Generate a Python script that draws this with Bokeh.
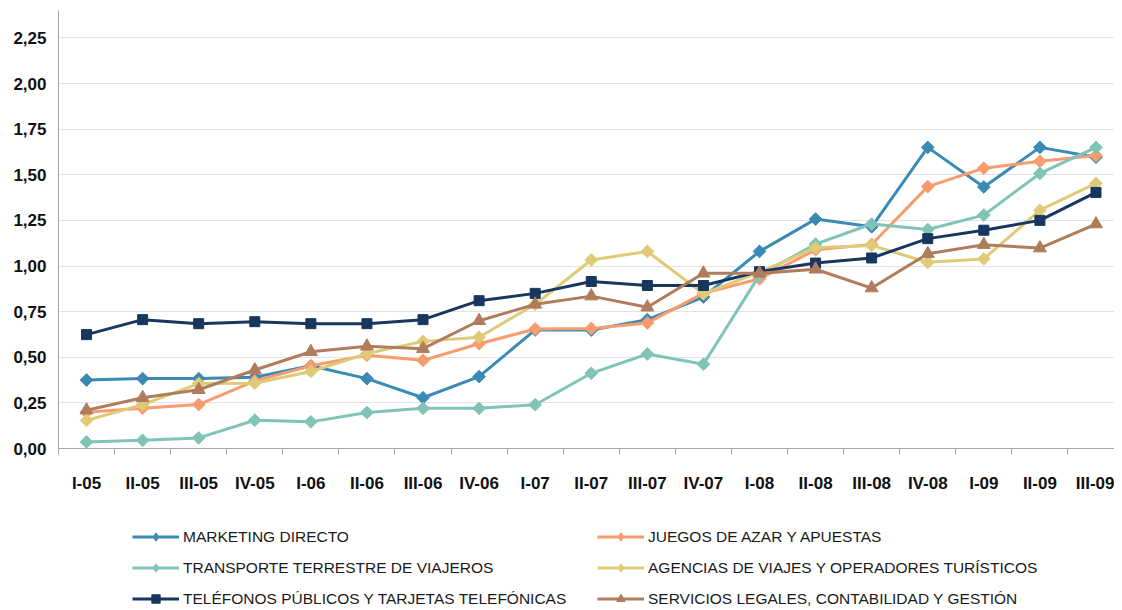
import math
from bokeh.plotting import figure
from bokeh.layouts import column
from bokeh.models import (FixedTicker, Range1d, Legend, LegendItem)
from bokeh.embed import file_html
from bokeh.resources import INLINE

categories = ["I-05", "II-05", "III-05", "IV-05", "I-06", "II-06", "III-06", "IV-06",
              "I-07", "II-07", "III-07", "IV-07", "I-08", "II-08", "III-08", "IV-08",
              "I-09", "II-09", "III-09"]

marketing = [0.375, 0.383, 0.383, 0.39, 0.453, 0.383, 0.278, 0.394, 0.65, 0.649,
             0.706, 0.83, 1.08, 1.257, 1.215, 1.65, 1.433, 1.65, 1.596]
juegos = [0.199, 0.221, 0.241, 0.37, 0.453, 0.511, 0.483, 0.574, 0.655, 0.658,
          0.688, 0.85, 0.93, 1.089, 1.118, 1.435, 1.536, 1.574, 1.605]
transporte = [0.036, 0.045, 0.058, 0.155, 0.146, 0.197, 0.22, 0.22, 0.24, 0.412,
              0.518, 0.462, 0.95, 1.12, 1.23, 1.20, 1.279, 1.507, 1.65]
agencias = [0.154, 0.24, 0.356, 0.358, 0.422, 0.52, 0.587, 0.61, 0.79, 1.033,
            1.08, 0.848, 0.966, 1.10, 1.113, 1.02, 1.039, 1.306, 1.453]
telefonos = [0.624, 0.706, 0.684, 0.695, 0.684, 0.684, 0.706, 0.81, 0.85, 0.915,
             0.893, 0.893, 0.969, 1.016, 1.044, 1.15, 1.196, 1.25, 1.403]
servicios = [0.21, 0.278, 0.322, 0.43, 0.53, 0.56, 0.547, 0.70, 0.79, 0.835,
             0.774, 0.96, 0.96, 0.982, 0.879, 1.067, 1.117, 1.098, 1.23]

series_names = ["MARKETING DIRECTO", "JUEGOS DE AZAR Y APUESTAS",
                "TRANSPORTE TERRESTRE DE VIAJEROS",
                "AGENCIAS DE VIAJES Y OPERADORES TURÍSTICOS",
                "TELÉFONOS PÚBLICOS Y TARJETAS TELEFÓNICAS",
                "SERVICIOS LEGALES, CONTABILIDAD Y GESTIÓN"]
y_ticks = [0.0, 0.25, 0.5, 0.75, 1.0, 1.25, 1.5, 1.75, 2.0, 2.25]

FONT = "Liberation Sans"
x = list(range(len(categories)))

p = figure(width=1114, height=500, output_backend="svg", toolbar_location=None,
           x_range=Range1d(-0.5, 18.33), y_range=Range1d(0, 2.4),
           min_border_left=58, min_border_right=0, min_border_top=10,
           min_border_bottom=52)
p.outline_line_color = None
p.background_fill_color = "white"
p.border_fill_color = "white"

p.xgrid.grid_line_color = None
p.ygrid.grid_line_color = "#e3e3e3"
p.ygrid.ticker = FixedTicker(ticks=y_ticks)

# x axis
p.xaxis.ticker = FixedTicker(ticks=x, minor_ticks=[i - 0.5 for i in range(len(categories) + 1)])
p.xaxis.major_label_overrides = {i: c for i, c in enumerate(categories)}
p.xaxis.major_tick_line_color = None
p.xaxis.major_tick_out = 0
p.xaxis.major_tick_in = 0
p.xaxis.minor_tick_line_color = "#a6a6a6"
p.xaxis.minor_tick_out = 6
p.xaxis.minor_tick_in = 0
p.xaxis.axis_line_color = "#a6a6a6"
p.xaxis.major_label_text_font = FONT
p.xaxis.major_label_text_font_style = "bold"
p.xaxis.major_label_text_font_size = "17px"
p.xaxis.major_label_text_color = "#111111"
p.xaxis.major_label_standoff = 19

# y axis
p.yaxis.ticker = FixedTicker(ticks=y_ticks)
p.yaxis.major_label_overrides = {t: ("%.2f" % t).replace(".", ",") for t in y_ticks}
p.yaxis.major_tick_line_color = None
p.yaxis.major_tick_out = 0
p.yaxis.major_tick_in = 0
p.yaxis.minor_tick_line_color = None
p.yaxis.axis_line_color = "#a6a6a6"
p.yaxis.major_label_text_font = FONT
p.yaxis.major_label_text_font_style = "bold"
p.yaxis.major_label_text_font_size = "17px"
p.yaxis.major_label_text_color = "#111111"
p.yaxis.major_label_standoff = 12

data = [marketing, juegos, transporte, agencias, telefonos, servicios]
colors = ["#3a8ab6", "#f89c6e", "#80c4b8", "#dfcb77", "#17375e", "#b07c5c"]
markers = [("square", 9, math.pi / 4), ("square", 9, math.pi / 4),
           ("square", 9, math.pi / 4), ("square", 9, math.pi / 4),
           ("square", 10, 0.0), ("triangle", 13, 0.0)]
legend_markers = ["diamond", "diamond", "diamond", "diamond", "square", "triangle"]

for vals, col, (mk, sz, ang) in zip(data, colors, markers):
    p.line(x, vals, line_color=col, line_width=3)
    p.scatter(x, vals, marker=mk, size=sz, angle=ang, fill_color=col,
              line_color=col, line_width=1)

# legend strip below the chart; its view range is far from the data so only
# the legend samples show
pl = figure(width=1114, height=109, output_backend="svg", toolbar_location=None,
            x_range=Range1d(-200, -199), y_range=Range1d(-200, -199),
            x_axis_type=None, y_axis_type=None,
            min_border_left=0, min_border_right=0, min_border_top=0,
            min_border_bottom=0)
pl.outline_line_color = None
pl.xgrid.visible = False
pl.ygrid.visible = False

items = []
for vals, col, lm, name in zip(data, colors, legend_markers, series_names):
    lr = pl.line(x, vals, line_color=col, line_width=3)
    sr = pl.scatter(x, vals, marker=lm, size=10, fill_color=col,
                    line_color=col, line_width=1)
    items.append(LegendItem(label=name, renderers=[lr, sr]))


def make_legend(its, loc):
    return Legend(items=its, location=loc, orientation="vertical",
                  glyph_width=47, glyph_height=21, label_height=21,
                  label_standoff=4, spacing=10, padding=0, margin=0,
                  border_line_color=None, background_fill_alpha=0,
                  label_text_font=FONT, label_text_font_size="15.5px",
                  label_text_color="#1a1a1a")


pl.add_layout(make_legend([items[0], items[2], items[4]], (74, 0)))
pl.add_layout(make_legend([items[1], items[3], items[5]], (539, 0)))

layout = column(p, pl, spacing=0)
open("out.html", "w").write(file_html(layout, INLINE))
